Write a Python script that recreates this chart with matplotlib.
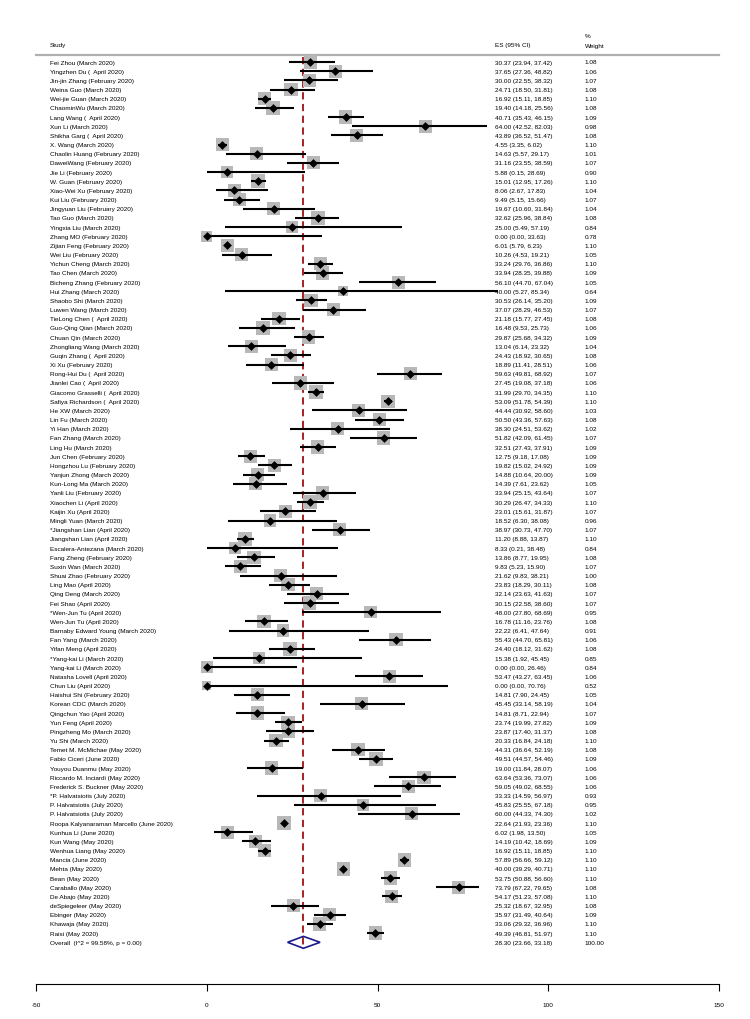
import matplotlib
matplotlib.use("Agg")
from matplotlib import pyplot as plt
from matplotlib.patches import Polygon
import numpy as np

plt.rcParams['font.family'] = ['Liberation Sans', 'DejaVu Sans']
plt.rcParams['axes.unicode_minus'] = False

studies = [
    "Fei Zhou (March 2020)", "Yingzhen Du (  April 2020)", "Jin-jin Zhang (February 2020)",
    "Weina Guo (March 2020)", "Wei-jie Guan (March 2020)", "ChaominWu (March 2020)",
    "Lang Wang (  April 2020)", "Xun Li (March 2020)", "Shikha Garg (  April 2020)",
    "X. Wang (March 2020)", "Chaolin Huang (February 2020)", "DaweiWang (February 2020)",
    "Jie Li (February 2020)", "W. Guan (February 2020)", "Xiao-Wei Xu (February 2020)",
    "Kui Liu (February 2020)", "Jingyuan Liu (February 2020)", "Tao Guo (March 2020)",
    "Yingxia Liu (March 2020)", "Zhang MO (February 2020)", "Zijian Feng (February 2020)",
    "Wei Liu (February 2020)", "Yichun Cheng (March 2020)", "Tao Chen (March 2020)",
    "Bicheng Zhang (February 2020)", "Hui Zhang (March 2020)", "Shaobo Shi (March 2020)",
    "Luwen Wang (March 2020)", "TieLong Chen (  April 2020)", "Guo-Qing Qian (March 2020)",
    "Chuan Qin (March 2020)", "Zhongliang Wang (March 2020)", "Guqin Zhang (  April 2020)",
    "Xi Xu (February 2020)", "Rong-Hui Du (  April 2020)", "Jianlei Cao (  April 2020)",
    "Giacomo Grasselli (  April 2020)", "Safiya Richardson (  April 2020)", "He XW (March 2020)",
    "Lin Fu (March 2020)", "Yi Han (March 2020)", "Fan Zhang (March 2020)",
    "Ling Hu (March 2020)", "Jun Chen (February 2020)", "Hongzhou Lu (February 2020)",
    "Yanjun Zhong (March 2020)", "Kun-Long Ma (March 2020)", "Yanli Liu (February 2020)",
    "Xiaochen Li (April 2020)", "Kaijin Xu (April 2020)", "Mingli Yuan (March 2020)",
    "*Jiangshan Lian (April 2020)", "Jiangshan Lian (April 2020)", "Escalera-Antezana (March 2020)",
    "Fang Zheng (February 2020)", "Suxin Wan (March 2020)", "Shuai Zhao (February 2020)",
    "Ling Mao (April 2020)", "Qing Deng (March 2020)", "Fei Shao (April 2020)",
    "*Wen-Jun Tu (April 2020)", "Wen-Jun Tu (April 2020)", "Barnaby Edward Young (March 2020)",
    "Fan Yang (March 2020)", "Yifan Meng (April 2020)", "*Yang-kai Li (March 2020)",
    "Yang-kai Li (March 2020)", "Natasha Lovell (April 2020)", "Chun Liu (April 2020)",
    "Haishui Shi (February 2020)", "Korean CDC (March 2020)", "Qingchun Yao (April 2020)",
    "Yun Feng (April 2020)", "Pingzheng Mo (March 2020)", "Yu Shi (March 2020)",
    "Temet M. McMichae (May 2020)", "Fabio Ciceri (June 2020)", "Youyou Duanmu (May 2020)",
    "Riccardo M. Inciardi (May 2020)", "Frederick S. Buckner (May 2020)", "*P. Halvatsiotis (July 2020)",
    "P. Halvatsiotis (July 2020)", "P. Halvatsiotis (July 2020)", "Roopa Kalyanaraman Marcello (June 2020)",
    "Kunhua Li (June 2020)", "Kun Wang (May 2020)", "Wenhua Liang (May 2020)",
    "Mancia (June 2020)", "Mehta (May 2020)", "Bean (May 2020)",
    "Caraballo (May 2020)", "De Abajo (May 2020)", "deSpiegeleer (May 2020)",
    "Ebinger (May 2020)", "Khawaja (May 2020)", "Raisi (May 2020)",
]

es = [30.37, 37.65, 30.00, 24.71, 16.92, 19.40, 40.71, 64.00, 43.89, 4.55,
      14.63, 31.16, 5.88, 15.01, 8.06, 9.49, 19.67, 32.62, 25.00, 0.00,
      6.01, 10.26, 33.24, 33.94, 56.10, 40.00, 30.53, 37.07, 21.18, 16.48,
      29.87, 13.04, 24.43, 18.89, 59.63, 27.45, 31.99, 53.09, 44.44, 50.50,
      38.30, 51.82, 32.51, 12.75, 19.82, 14.88, 14.39, 33.94, 30.29, 23.01,
      18.52, 38.97, 11.20, 8.33, 13.86, 9.83, 21.62, 23.83, 32.14, 30.15,
      48.00, 16.78, 22.22, 55.43, 24.40, 15.38, 0.00, 53.47, 0.00, 14.81,
      45.45, 14.81, 23.74, 23.87, 20.33, 44.31, 49.51, 19.00, 63.64, 59.05,
      33.33, 45.83, 60.00, 22.64, 6.02, 14.19, 16.92, 57.89, 40.00, 53.75,
      73.79, 54.17, 25.32, 35.97, 33.06, 49.39]

lo = [23.94, 27.36, 22.55, 18.50, 15.11, 14.18, 35.43, 42.52, 36.52, 3.35,
      5.57, 23.55, 0.15, 12.95, 2.67, 5.15, 10.60, 25.96, 5.49, 0.00,
      5.79, 4.53, 29.76, 28.35, 44.70, 5.27, 26.14, 28.29, 15.77, 9.53,
      25.68, 6.14, 18.92, 11.41, 49.81, 19.08, 29.70, 51.78, 30.92, 43.36,
      24.51, 42.09, 27.43, 9.18, 15.02, 10.64, 7.61, 25.15, 26.47, 15.61,
      6.30, 30.73, 8.88, 0.21, 8.77, 5.23, 9.83, 18.29, 23.63, 22.58,
      27.80, 11.16, 6.41, 44.70, 18.12, 1.92, 0.00, 43.27, 0.00, 7.90,
      33.14, 8.71, 19.99, 17.40, 16.84, 36.64, 44.57, 11.84, 53.36, 49.02,
      14.59, 25.55, 44.33, 21.93, 1.98, 10.42, 15.11, 56.66, 39.29, 50.88,
      67.22, 51.23, 18.67, 31.49, 29.32, 46.81]

hi = [37.42, 48.82, 38.32, 31.81, 18.85, 25.56, 46.15, 82.03, 51.47, 6.02,
      29.17, 38.59, 28.69, 17.26, 17.83, 15.66, 31.84, 38.84, 57.19, 33.63,
      6.23, 19.21, 36.86, 39.88, 67.04, 85.34, 35.20, 46.53, 27.45, 25.73,
      34.32, 23.32, 30.65, 28.51, 68.92, 37.18, 34.35, 54.39, 58.60, 57.63,
      53.62, 61.45, 37.91, 17.08, 24.92, 20.00, 23.62, 43.64, 34.33, 31.87,
      38.08, 47.70, 13.87, 38.48, 19.95, 15.90, 38.21, 30.11, 41.63, 38.60,
      68.69, 23.76, 47.64, 65.81, 31.62, 45.45, 26.46, 63.45, 70.76, 24.45,
      58.19, 22.94, 27.82, 31.37, 24.18, 52.19, 54.46, 28.07, 73.07, 68.55,
      56.97, 67.18, 74.30, 23.36, 13.50, 18.69, 18.85, 59.12, 40.71, 56.60,
      79.65, 57.08, 32.95, 40.64, 36.96, 51.97]

weights = [1.08, 1.06, 1.07, 1.08, 1.10, 1.08, 1.09, 0.98, 1.08, 1.10,
           1.01, 1.07, 0.90, 1.10, 1.04, 1.07, 1.04, 1.08, 0.84, 0.78,
           1.10, 1.05, 1.10, 1.09, 1.05, 0.64, 1.09, 1.07, 1.08, 1.06,
           1.09, 1.04, 1.08, 1.06, 1.07, 1.06, 1.10, 1.10, 1.03, 1.08,
           1.02, 1.07, 1.09, 1.09, 1.09, 1.09, 1.05, 1.07, 1.10, 1.07,
           0.96, 1.07, 1.10, 0.84, 1.08, 1.07, 1.00, 1.08, 1.07, 1.07,
           0.95, 1.08, 0.91, 1.06, 1.08, 0.85, 0.84, 1.06, 0.52, 1.05,
           1.04, 1.07, 1.09, 1.08, 1.10, 1.08, 1.09, 1.06, 1.06, 1.06,
           0.93, 0.95, 1.02, 1.10, 1.05, 1.09, 1.10, 1.10, 1.10, 1.10,
           1.08, 1.10, 1.08, 1.09, 1.10, 1.10]

overall_label = "Overall  (I^2 = 99.58%, p = 0.00)"
overall_es, overall_lo, overall_hi = 28.30, 23.66, 33.18

n = len(studies)
rows = np.arange(n)
overall_row = n

fig = plt.figure(figsize=(7.5, 10.2), dpi=100)
# axes spans pixel x 36..719, y 20..985
ax = fig.add_axes([36 / 750, 1 - 985 / 1020, (719 - 36) / 750, (985 - 20) / 1020])
ax.set_xlim(-50, 150)
row_px = 9.17
ax.set_ylim((985 - 63) / row_px, (20 - 63) / row_px)

fs = 4.6
x_study = -45.9
x_es = 84.3
x_w = 110.7

# header
ax.text(x_study, -1.95, "Study", fontsize=fs, va="center", ha="left")
ax.text(x_es, -1.95, "ES (95% CI)", fontsize=fs, va="center", ha="left")
ax.text(x_w, -2.85, "%", fontsize=fs, va="center", ha="left")
ax.text(x_w, -1.75, "Weight", fontsize=fs, va="center", ha="left")
ax.plot([-50, 150], [-0.75, -0.75], color="#b0b0b0", lw=1.6, clip_on=False)

# overall estimate line
ax.plot([overall_es, overall_es], [-0.5, overall_row + 0.7], color="#a01010",
        lw=1.3, ls=(0, (4, 2.5)), zorder=1)

# studies
ax.scatter(es, rows, s=np.array(weights) * 85, marker="s", color="#b8b8b8", zorder=2, lw=0)
ax.hlines(rows, lo, hi, color="black", lw=1.5, zorder=3)
ax.scatter(es, rows, s=20, marker="D", color="black", zorder=4, lw=0)

for i in range(n):
    ax.text(x_study, rows[i], studies[i], fontsize=fs, va="center", ha="left")
    ax.text(x_es, rows[i], f"{es[i]:.2f} ({lo[i]:.2f}, {hi[i]:.2f})", fontsize=fs,
            va="center", ha="left")
    ax.text(x_w, rows[i], f"{weights[i]:.2f}", fontsize=fs, va="center", ha="left")

# overall
dh = 0.65
diamond = Polygon([[overall_lo, overall_row], [overall_es, overall_row - dh],
                   [overall_hi, overall_row], [overall_es, overall_row + dh]],
                  closed=True, fill=False, edgecolor="#1a1a8c", lw=1.2, zorder=5)
ax.add_patch(diamond)
ax.text(x_study, overall_row, overall_label, fontsize=fs, va="center", ha="left")
ax.text(x_es, overall_row, f"{overall_es:.2f} ({overall_lo:.2f}, {overall_hi:.2f})",
        fontsize=fs, va="center", ha="left")
ax.text(x_w, overall_row, "100.00", fontsize=fs, va="center", ha="left")

# axis
for side in ["top", "left", "right"]:
    ax.spines[side].set_visible(False)
ax.spines["bottom"].set_linewidth(0.8)
ax.set_yticks([])
ax.set_xticks([-50, 0, 50, 100, 150])
ax.tick_params(axis="x", labelsize=fs, length=5, width=0.8, pad=8)

fig.savefig("out.png", dpi=100)
